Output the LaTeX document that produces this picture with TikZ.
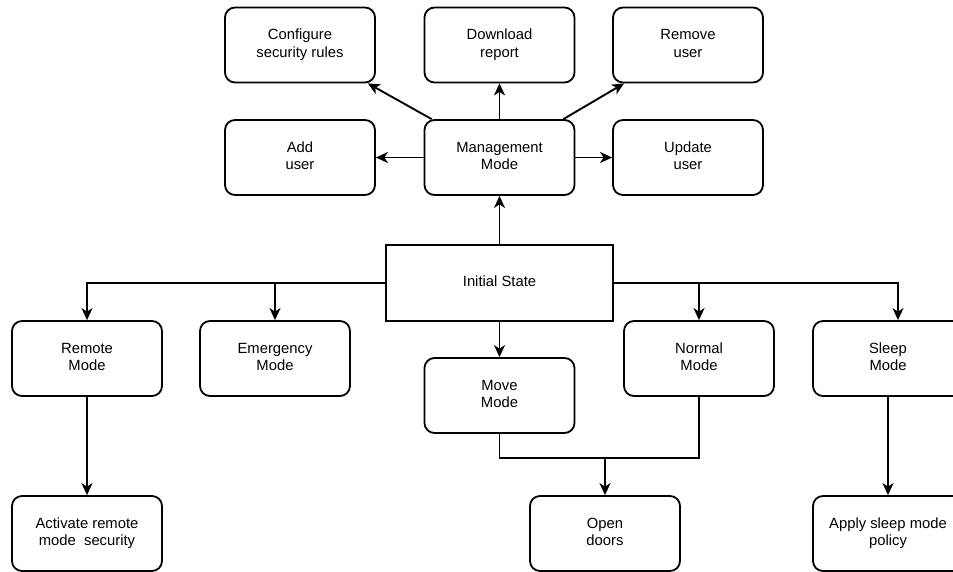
\documentclass[tikz,border=0pt]{standalone}
\usepackage{fontspec}
\setmainfont{Liberation Sans}
\usetikzlibrary{arrows.meta,calc}
\begin{document}
\begin{tikzpicture}[x=1pt,y=-1pt,
  box/.style={draw,line width=1.8pt,rounded corners=10pt,minimum width=150pt,minimum height=75pt,align=center,inner sep=0pt,font=\fontsize{14.8}{17.8}\selectfont},
  sbox/.style={box,rounded corners=0pt,line width=1.8pt},
  arr/.style={line width=1.9pt,-{Stealth[length=12pt,width=11pt,inset=3.5pt]}},
  ln/.style={line width=1.9pt}]
\clip (0,0) rectangle (953,571);
\fill[white] (0,0) rectangle (953,571);
\node[box] (config) at (300,45) {\strut Configure\\\strut security rules};
\node[box] (download) at (499.5,45) {\strut Download\\\strut report};
\node[box] (remove) at (688,45) {\strut Remove\\\strut user};
\node[box] (adduser) at (300,157.5) {\strut Add\\\strut user};
\node[box] (mgmt) at (499.5,157.5) {\strut Management\\\strut Mode};
\node[box] (update) at (688,157.5) {\strut Update\\\strut user};
\node[sbox,minimum width=227pt,minimum height=76pt] (init) at (499.5,283) {\strut Initial State};
\node[box] (remote) at (87,358.5) {\strut Remote\\\strut Mode};
\node[box] (emerg) at (275,358.5) {\strut Emergency\\\strut Mode};
\node[box] (move) at (499.5,395.5) {\strut Move\\\strut Mode};
\node[box] (normal) at (699,358.5) {\strut Normal\\\strut Mode};
\node[box] (sleep) at (888,358.5) {\strut Sleep\\\strut Mode};
\node[box] (activate) at (87,533.5) {\strut Activate remote\\\strut mode~~security};
\node[box] (open) at (605,533.5) {\strut Open\\\strut doors};
\node[box] (apply) at (888,533.5) {\strut Apply sleep mode\\\strut policy};
\coordinate (j) at (605,458);
\draw[arr] (init.north) -- (mgmt.south);
\draw[arr] (mgmt.west) -- (adduser.east);
\draw[arr] (mgmt.east) -- (update.west);
\draw[arr] (mgmt.north) -- (download.south);
\draw[arr] ([xshift=8pt]mgmt.north west) -- ([xshift=-8pt]config.south east);
\draw[arr] ([xshift=-12pt]mgmt.north east) -- ([xshift=12pt]remove.south west);
\draw[arr] (init.west) -| (remote.north);
\draw[arr] (init.west -| emerg.north) -- (emerg.north);
\draw[arr] (init.east) -| ([xshift=10pt]sleep.north);
\draw[arr] (init.east -| normal.north) -- (normal.north);
\draw[arr] (init.south) -- (move.north);
\draw[ln] (move.south) |- (j) -| (normal.south);
\draw[arr] (j) -- (open.north);
\draw[arr] (remote.south) -- (activate.north);
\draw[arr] (sleep.south) -- (apply.north);
\end{tikzpicture}
\end{document}
